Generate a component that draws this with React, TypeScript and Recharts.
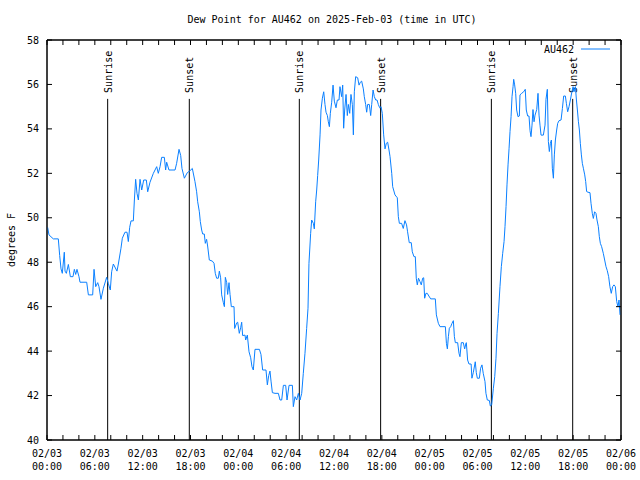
import { LineChart, Line, XAxis, YAxis, ReferenceLine, ReferenceArea } from "recharts";

document.body.style.margin = "0";

// hours since 2025-02-03 00:00 UTC
const hours = [
  0.08, 0.25, 0.79, 1.42, 1.59, 1.76, 1.92, 2.17, 2.26, 2.43, 2.68, 2.93, 3.26, 3.43, 3.6, 3.76, 4.01, 4.14, 4.98,
  5.19, 5.73, 5.9, 6.11, 6.36, 6.52, 6.77, 7.07, 7.48, 7.69, 7.94, 8.11, 8.32, 8.78, 8.95, 9.28, 9.45, 9.78, 10.04,
  10.2, 10.37, 10.54, 10.83, 10.96, 11.12, 11.29, 11.46, 11.67, 11.88, 12.13, 12.46, 12.63, 12.92, 13.34, 13.76,
  13.96, 14.18, 14.38, 14.72, 14.88, 15.01, 15.3, 16.06, 16.26, 16.56, 16.77, 16.93, 17.23, 17.6, 17.94, 18.23,
  18.56, 18.77, 18.9, 19.11, 19.23, 19.4, 19.53, 19.73, 19.86, 20.02, 20.15, 20.36, 20.74, 20.95, 21.11, 21.28,
  21.49, 21.62, 21.78, 21.91, 22.12, 22.25, 22.37, 22.54, 22.66, 22.83, 22.96, 23.12, 23.46, 23.54, 23.79, 23.92,
  24.12, 24.29, 24.42, 24.54, 24.84, 24.92, 25.13, 25.34, 25.55, 25.71, 25.88, 26.09, 26.64, 26.84, 27.05, 27.47,
  27.64, 27.81, 27.97, 28.1, 28.27, 28.6, 29.02, 29.23, 29.44, 29.65, 29.94, 30.11, 30.36, 30.78, 30.9, 31.11,
  31.32, 31.53, 31.74, 31.95, 32.15, 32.36, 32.57, 32.74, 32.86, 33.07, 33.2, 33.41, 33.53, 33.7, 33.83, 33.95,
  34.08, 34.25, 34.37, 34.54, 34.71, 34.87, 35.0, 35.17, 35.29, 35.42, 35.54, 35.71, 35.88, 36.04, 36.25, 36.42,
  36.63, 36.75, 36.96, 37.09, 37.21, 37.34, 37.51, 37.67, 37.8, 37.97, 38.13, 38.3, 38.43, 38.55, 38.72, 38.97,
  39.14, 39.3, 39.47, 39.68, 39.8, 39.97, 40.1, 40.22, 40.43, 40.6, 40.73, 40.9, 41.06, 41.23, 41.4, 41.56, 41.73,
  41.9, 42.06, 42.23, 42.4, 42.56, 42.73, 42.9, 43.03, 43.24, 43.36, 43.65, 43.94, 44.07, 44.2, 44.48, 44.69, 44.9,
  45.1, 45.23, 45.44, 45.69, 45.82, 46.03, 46.2, 46.32, 46.45, 46.6, 46.78, 46.95, 47.12, 47.25, 47.37, 47.53, 47.7,
  47.9, 48.13, 48.71, 48.84, 49.09, 49.3, 49.97, 50.1, 50.22, 50.35, 50.47, 50.64, 50.8, 50.97, 51.1, 51.22, 51.51,
  51.68, 51.8, 51.97, 52.22, 52.39, 52.55, 52.6, 52.76, 52.93, 53.2, 53.3, 53.47, 53.72, 53.85, 53.98, 54.23, 54.39,
  54.56, 54.72, 54.94, 55.06, 55.23, 55.48, 55.61, 55.78, 55.99, 56.16, 56.32, 56.45, 56.62, 56.82, 56.99, 57.16,
  57.33, 57.45, 57.58, 57.7, 57.83, 57.96, 58.08, 58.21, 58.33, 58.46, 58.54, 58.66, 58.79, 58.91, 59.08, 59.25,
  59.33, 59.54, 59.79, 59.99, 60.12, 60.29, 60.46, 60.59, 60.71, 60.84, 60.96, 61.09, 61.22, 61.43, 61.59, 61.72,
  61.84, 61.97, 62.26, 62.47, 62.59, 62.76, 62.89, 63.01, 63.14, 63.27, 63.39, 63.52, 63.64, 63.77, 63.93, 64.06,
  64.23, 64.48, 64.65, 64.81, 65.02, 65.15, 65.31, 65.48, 65.65, 65.82, 65.99, 66.11, 66.28, 66.41, 66.53, 66.66,
  66.78, 66.9, 67.03, 67.15, 67.28, 67.45, 67.57, 67.69, 67.86, 68.11, 68.24, 68.4, 68.53, 68.69, 68.86, 68.99,
  69.16, 69.28, 69.41, 69.57, 69.78, 69.95, 70.12, 70.28, 70.45, 70.61, 70.78, 70.95, 71.12, 71.29, 71.46, 71.62,
  71.75, 71.88,
];

const dewF = [
  49.57, 49.23, 49.05, 49.05, 48.3, 47.7, 47.5, 48.45, 47.6, 47.5, 47.9, 47.35, 47.35, 47.68, 47.45, 47.68, 47.35,
  47.1, 47.1, 46.53, 46.53, 47.68, 46.9, 47.08, 46.9, 46.33, 46.83, 47.32, 47.05, 46.75, 47.57, 47.92, 47.6, 47.92,
  48.63, 49.08, 49.35, 49.35, 48.93, 49.57, 49.86, 49.86, 50.8, 51.73, 51.1, 50.8, 51.73, 51.25, 51.7, 51.7, 51.17,
  51.6, 52.0, 52.3, 52.0, 52.3, 52.72, 52.72, 52.15, 52.5, 52.15, 52.15, 52.45, 53.08, 52.8, 52.22, 51.78, 52.03,
  52.12, 52.22, 51.63, 51.17, 50.72, 50.27, 49.83, 49.45, 49.27, 49.27, 48.85, 49.03, 48.73, 48.1, 48.05, 47.95,
  47.5, 47.28, 47.28, 47.6, 47.3, 46.53, 46.18, 46.0, 47.32, 47.08, 46.55, 47.08, 46.55, 46.0, 46.0, 45.02, 45.27,
  45.3, 44.8, 45.05, 45.3, 44.7, 44.72, 44.5, 44.72, 43.97, 43.7, 43.3, 43.15, 44.08, 44.08, 43.85, 43.15, 43.15,
  42.48, 42.9, 43.1, 42.65, 42.13, 42.1, 42.1, 41.8, 41.8, 42.46, 42.46, 41.8, 42.46, 42.46, 41.5, 41.95, 41.8,
  42.1, 41.8, 42.1, 43.0, 43.9, 45.02, 45.93, 47.95, 49.3, 49.9, 49.75, 49.5, 50.72, 51.25, 51.9, 52.6, 53.73,
  54.85, 55.38, 55.67, 55.1, 54.75, 54.6, 54.32, 54.1, 54.7, 55.2, 55.97, 55.25, 54.95, 55.3, 55.3, 55.9, 55.45,
  55.97, 54.03, 54.85, 55.55, 54.6, 55.1, 54.7, 55.55, 55.1, 53.73, 55.67, 56.35, 56.3, 55.97, 56.1, 56.15, 55.8,
  55.45, 55.1, 54.75, 55.1, 55.1, 54.6, 55.1, 55.75, 55.45, 55.3, 55.3, 55.1, 54.95, 55.0, 54.7, 53.73, 53.1,
  53.35, 53.4, 53.05, 52.75, 52.0, 51.4, 51.03, 50.9, 50.05, 49.75, 49.75, 49.52, 49.87, 49.68, 49.37, 48.88,
  48.88, 48.47, 48.25, 48.25, 47.28, 46.98, 47.28, 47.13, 46.98, 47.28, 47.3, 46.38, 46.6, 46.6, 46.48, 46.35,
  46.35, 45.63, 45.25, 45.1, 45.1, 44.35, 44.1, 44.65, 45.03, 45.1, 45.25, 45.37, 44.65, 44.38, 44.38, 43.9, 43.75,
  44.38, 44.38, 44.1, 44.35, 44.38, 43.6, 43.42, 43.42, 42.78, 43.03, 43.52, 43.03, 42.78, 42.78, 43.23, 43.38,
  43.0, 42.63, 42.1, 41.8, 41.78, 41.53, 41.58, 42.33, 42.85, 43.68, 44.8, 45.7, 46.9, 47.8, 48.4, 48.93, 49.6,
  50.5, 51.48, 52.38, 53.13, 53.88, 54.55, 55.45, 55.9, 56.23, 55.98, 55.6, 54.85, 54.55, 54.58, 55.53, 55.6, 55.67,
  55.78, 54.85, 54.58, 54.58, 53.92, 53.65, 54.17, 54.87, 54.32, 54.62, 54.87, 55.6, 54.62, 54.17, 53.72, 53.72,
  54.17, 55.33, 55.78, 53.43, 52.98, 53.35, 53.5, 52.23, 51.78, 52.83, 53.5, 53.95, 54.25, 54.37, 54.4, 54.92,
  55.48, 55.48, 55.15, 54.77, 55.0, 55.3, 55.63, 55.9, 55.67, 55.9, 55.3, 54.85, 54.32, 53.95, 53.35, 52.83, 52.45,
  52.23, 51.93, 51.63, 51.18, 51.15, 51.13, 50.65, 50.2, 49.97, 50.27, 50.2, 49.9, 49.6, 49.15, 48.85, 48.7, 48.4,
  48.1, 47.8, 47.62, 47.35, 46.9, 46.6, 46.9, 46.98, 46.9, 46.23, 46.0, 46.3, 45.63,
];

const sunrise = [7.61, 31.65, 55.74];
const sunset = [17.85, 41.85, 65.94];

const xTicks = [
  0, 2, 4, 6, 8, 10, 12, 14, 16, 18, 20, 22, 24, 26, 28, 30, 32, 34, 36, 38, 40, 42, 44, 46, 48, 50, 52, 54, 56, 58,
  60, 62, 64, 66, 68, 70, 72,
];
const dayLabels = ["02/03", "02/03", "02/03", "02/03", "02/04", "02/04", "02/04", "02/04", "02/05", "02/05", "02/05", "02/05", "02/06"];
const timeLabels = ["00:00", "06:00", "12:00", "18:00", "00:00", "06:00", "12:00", "18:00", "00:00", "06:00", "12:00", "18:00", "00:00"];
const yTicks = [40, 42, 44, 46, 48, 50, 52, 54, 56, 58];

const data = hours.map((h, i) => ({ h, dew: dewF[i] }));

const FONT = "'DejaVu Sans Mono', monospace";
const BLUE = "#0a80ff";

const BottomTick = (props: any) => {
  const { x, y, payload } = props;
  const v = payload.value;
  const labelled = v % 6 === 0;
  return (
    <g>
      <line x1={x} y1={y} x2={x} y2={y - 5} stroke="#000" />
      {labelled && (
        <text x={x} y={y} textAnchor="middle" fontFamily={FONT} fontSize={10} fill="#000">
          <tspan x={x} dy={17}>{dayLabels[v / 6]}</tspan>
          <tspan x={x} dy={13}>{timeLabels[v / 6]}</tspan>
        </text>
      )}
    </g>
  );
};

const TopTick = (props: any) => {
  const { x, y } = props;
  return <line x1={x} y1={y} x2={x} y2={y + 5} stroke="#000" />;
};

const LeftTick = (props: any) => {
  const { x, y, payload } = props;
  return (
    <g>
      <line x1={x} y1={y} x2={x + 5} y2={y} stroke="#000" />
      <text x={x - 8} y={y} dy="0.35em" textAnchor="end" fontFamily={FONT} fontSize={10} fill="#000">
        {payload.value}
      </text>
    </g>
  );
};

const RightTick = (props: any) => {
  const { x, y } = props;
  return <line x1={x} y1={y} x2={x - 5} y2={y} stroke="#000" />;
};

const sunLabel = (text: string) => (props: any) => {
  const vb = props.viewBox || {};
  const x = (vb.x ?? 0) + 4;
  const y = (vb.y ?? 0) - 6;
  return (
    <text x={x} y={y} transform={`rotate(-90 ${x} ${y})`} textAnchor="start" fontFamily={FONT} fontSize={10} fill="#000">
      {text}
    </text>
  );
};

export default function App() {
  return (
    <div style={{ position: "relative", width: 640, height: 480, background: "#fff" }}>
      <LineChart width={640} height={480} data={data} margin={{ top: 39, right: 18, bottom: 0, left: 0 }}>
        <XAxis
          dataKey="h"
          type="number"
          domain={[0, 72]}
          ticks={xTicks}
          interval={0}
          height={40}
          tickSize={0}
          tickMargin={0}
          tickLine={false}
          axisLine={{ stroke: "#000" }}
          tick={<BottomTick />}
          allowDataOverflow
        />
        <XAxis
          xAxisId="top"
          orientation="top"
          dataKey="h"
          type="number"
          domain={[0, 72]}
          ticks={xTicks}
          interval={0}
          height={1}
          tickSize={0}
          tickMargin={0}
          tickLine={false}
          axisLine={{ stroke: "#000" }}
          tick={<TopTick />}
          allowDataOverflow
        />
        <YAxis
          type="number"
          domain={[40, 58]}
          ticks={yTicks}
          interval={0}
          width={47}
          tickSize={0}
          tickMargin={0}
          tickLine={false}
          axisLine={{ stroke: "#000" }}
          tick={<LeftTick />}
          allowDataOverflow
        />
        <YAxis
          yAxisId="right"
          orientation="right"
          type="number"
          domain={[40, 58]}
          ticks={yTicks}
          interval={0}
          width={1}
          tickSize={0}
          tickMargin={0}
          tickLine={false}
          axisLine={{ stroke: "#000" }}
          tick={<RightTick />}
          allowDataOverflow
        />
        {/* plot frame */}
        <ReferenceArea x1={0} x2={72} y1={40} y2={58} fill="none" stroke="#000" strokeWidth={1} fillOpacity={0} />
        {sunrise.map((h) => (
          <ReferenceLine
            key={"sr" + h}
            segment={[{ x: h, y: 55.35 }, { x: h, y: 40 }]}
            stroke="#000"
            strokeWidth={1}
            label={sunLabel("Sunrise")}
          />
        ))}
        {sunset.map((h) => (
          <ReferenceLine
            key={"ss" + h}
            segment={[{ x: h, y: 55.35 }, { x: h, y: 40 }]}
            stroke="#000"
            strokeWidth={1}
            label={sunLabel("Sunset")}
          />
        ))}
        {/* invisible copy so the mirrored top/right axes get drawn */}
        <Line
          xAxisId="top"
          yAxisId="right"
          type="linear"
          dataKey="dew"
          stroke="none"
          dot={false}
          activeDot={false}
          legendType="none"
          isAnimationActive={false}
        />
        <Line
          type="linear"
          dataKey="dew"
          stroke={BLUE}
          strokeWidth={1}
          dot={false}
          isAnimationActive={false}
        />
      </LineChart>
      <svg width={640} height={480} style={{ position: "absolute", left: 0, top: 0, pointerEvents: "none" }}>
        <text x={332} y={23} textAnchor="middle" fontFamily={FONT} fontSize={10} fill="#000">
          Dew Point for AU462 on 2025-Feb-03 (time in UTC)
        </text>
        <text x={15} y={240} transform="rotate(-90 15 240)" textAnchor="middle" fontFamily={FONT} fontSize={10} fill="#000">
          degrees F
        </text>
        <text x={574} y={53} textAnchor="end" fontFamily={FONT} fontSize={10} fill="#000">
          AU462
        </text>
        <line x1={581} y1={49} x2={610} y2={49} stroke={BLUE} strokeWidth={1} />
      </svg>
    </div>
  );
}
